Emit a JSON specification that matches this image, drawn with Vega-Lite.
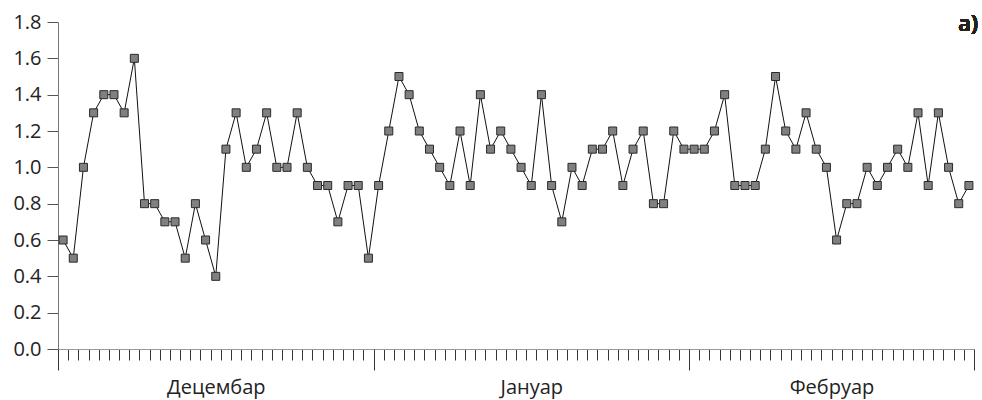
{
  "$schema": "https://vega.github.io/schema/vega-lite/v6.json",
  "width": 916,
  "height": 327,
  "autosize": "none",
  "padding": {"left": 58, "top": 22, "right": 8, "bottom": 51},
  "background": "white",
  "config": {"view": {"stroke": null}, "font": "Open Sans"},
  "data": {"values": [
    {"i":0,"v":0.6},{"i":1,"v":0.5},{"i":2,"v":1.0},{"i":3,"v":1.3},{"i":4,"v":1.4},{"i":5,"v":1.4},{"i":6,"v":1.3},{"i":7,"v":1.6},{"i":8,"v":0.8},{"i":9,"v":0.8},
    {"i":10,"v":0.7},{"i":11,"v":0.7},{"i":12,"v":0.5},{"i":13,"v":0.8},{"i":14,"v":0.6},{"i":15,"v":0.4},{"i":16,"v":1.1},{"i":17,"v":1.3},{"i":18,"v":1.0},{"i":19,"v":1.1},
    {"i":20,"v":1.3},{"i":21,"v":1.0},{"i":22,"v":1.0},{"i":23,"v":1.3},{"i":24,"v":1.0},{"i":25,"v":0.9},{"i":26,"v":0.9},{"i":27,"v":0.7},{"i":28,"v":0.9},{"i":29,"v":0.9},
    {"i":30,"v":0.5},
    {"i":31,"v":0.9},{"i":32,"v":1.2},{"i":33,"v":1.5},{"i":34,"v":1.4},{"i":35,"v":1.2},{"i":36,"v":1.1},{"i":37,"v":1.0},{"i":38,"v":0.9},{"i":39,"v":1.2},{"i":40,"v":0.9},
    {"i":41,"v":1.4},{"i":42,"v":1.1},{"i":43,"v":1.2},{"i":44,"v":1.1},{"i":45,"v":1.0},{"i":46,"v":0.9},{"i":47,"v":1.4},{"i":48,"v":0.9},{"i":49,"v":0.7},{"i":50,"v":1.0},
    {"i":51,"v":0.9},{"i":52,"v":1.1},{"i":53,"v":1.1},{"i":54,"v":1.2},{"i":55,"v":0.9},{"i":56,"v":1.1},{"i":57,"v":1.2},{"i":58,"v":0.8},{"i":59,"v":0.8},{"i":60,"v":1.2},
    {"i":61,"v":1.1},
    {"i":62,"v":1.1},{"i":63,"v":1.1},{"i":64,"v":1.2},{"i":65,"v":1.4},{"i":66,"v":0.9},{"i":67,"v":0.9},{"i":68,"v":0.9},{"i":69,"v":1.1},{"i":70,"v":1.5},{"i":71,"v":1.2},
    {"i":72,"v":1.1},{"i":73,"v":1.3},{"i":74,"v":1.1},{"i":75,"v":1.0},{"i":76,"v":0.6},{"i":77,"v":0.8},{"i":78,"v":0.8},{"i":79,"v":1.0},{"i":80,"v":0.9},{"i":81,"v":1.0},
    {"i":82,"v":1.1},{"i":83,"v":1.0},{"i":84,"v":1.3},{"i":85,"v":0.9},{"i":86,"v":1.3},{"i":87,"v":1.0},{"i":88,"v":0.8},{"i":89,"v":0.9}
  ]},
  "layer": [
    {
      "mark": {"type": "line", "color": "#111111", "strokeWidth": 1,
        "point": {"shape": "square", "filled": true, "fill": "#808080", "stroke": "#2a2a2a", "strokeWidth": 1, "size": 64, "opacity": 1}},
      "encoding": {
        "x": {"field": "i", "type": "quantitative",
          "scale": {"domain": [-0.5, 89.5], "nice": false, "zero": false},
          "axis": {"orient": "bottom", "title": null, "grid": false, "labels": false,
            "values": [0.5,1.5,2.5,3.5,4.5,5.5,6.5,7.5,8.5,9.5,10.5,11.5,12.5,13.5,14.5,15.5,16.5,17.5,18.5,19.5,20.5,21.5,22.5,23.5,24.5,25.5,26.5,27.5,28.5,29.5,
                       31.5,32.5,33.5,34.5,35.5,36.5,37.5,38.5,39.5,40.5,41.5,42.5,43.5,44.5,45.5,46.5,47.5,48.5,49.5,50.5,51.5,52.5,53.5,54.5,55.5,56.5,57.5,58.5,59.5,60.5,
                       62.5,63.5,64.5,65.5,66.5,67.5,68.5,69.5,70.5,71.5,72.5,73.5,74.5,75.5,76.5,77.5,78.5,79.5,80.5,81.5,82.5,83.5,84.5,85.5,86.5,87.5,88.5],
            "tickSize": 11, "tickColor": "#333333", "tickWidth": 1,
            "domainColor": "#999999", "domainWidth": 1}},
        "y": {"field": "v", "type": "quantitative",
          "scale": {"domain": [0, 1.8], "nice": false, "zero": true},
          "axis": {"orient": "left", "title": null, "grid": false, "values": [0,0.2,0.4,0.6,0.8,1.0,1.2,1.4,1.6,1.8], "format": ".1f",
            "tickSize": 11, "tickColor": "#555555", "domainColor": "#777777", "domainWidth": 1,
            "labelFontSize": 20, "labelColor": "#222222", "labelPadding": 6, "labelFont": "Open Sans"}}
      }
    },
    {
      "mark": {"type": "point", "opacity": 0},
      "encoding": {
        "x": {"field": "i", "type": "quantitative",
          "axis": {"orient": "bottom", "title": null, "grid": false, "domain": false,
            "values": [-0.5, 15, 30.5, 46, 61.5, 75.5, 89.5],
            "tickSize": 21, "tickColor": "#333333", "tickWidth": 1,
            "tickOpacity": {"condition": {"test": "datum.value == 15 || datum.value == 46 || datum.value == 75.5", "value": 0}, "value": 1},
            "labelExpr": "datum.value == 15 ? 'Децембар' : datum.value == 46 ? 'Јануар' : datum.value == 75.5 ? 'Фебруар' : ''",
            "labelFontSize": 20, "labelColor": "#222222", "labelPadding": 7, "labelFont": "Open Sans",
            "labelFlush": false, "labelOverlap": false, "labelBound": false}},
        "y": {"field": "v", "type": "quantitative", "axis": null}
      }
    },
    {
      "mark": {"type": "text", "text": "a)", "align": "right", "baseline": "alphabetic", "font": "Open Sans", "fontSize": 22, "fontWeight": 600, "fill": "#222222", "strokeWidth": 0, "opacity": 1, "dx": 4, "dy": 9},
      "encoding": {
        "x": {"datum": 89.5, "type": "quantitative", "axis": null},
        "y": {"datum": 1.8, "type": "quantitative", "axis": null}
      }
    }
  ],
  "resolve": {"axis": {"x": "independent", "y": "independent"}}
}
